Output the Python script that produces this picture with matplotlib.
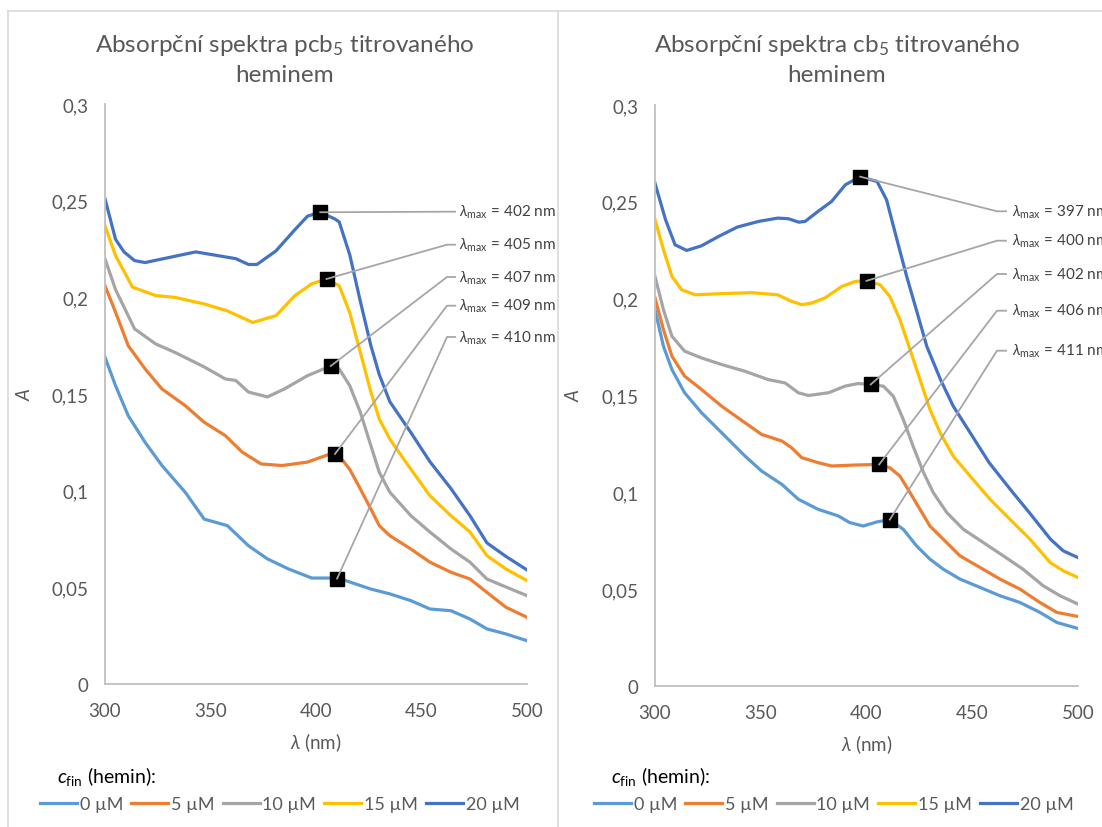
import matplotlib
matplotlib.use("Agg")
import matplotlib.pyplot as plt
import numpy as np
from matplotlib.ticker import FuncFormatter, MultipleLocator
from matplotlib.lines import Line2D

plt.rcParams['font.family'] = ['Lato', 'DejaVu Sans']
plt.rcParams['mathtext.fontset'] = 'custom'
plt.rcParams['mathtext.rm'] = 'Lato'
plt.rcParams['mathtext.it'] = 'Lato:italic'
plt.rcParams['mathtext.bf'] = 'Lato:bold'

conc_labels = ["0 µM", "5 µM", "10 µM", "15 µM", "20 µM"]
colors = ["#5B9BD5", "#ED7D31", "#A5A5A5", "#FFC000", "#4472C4"]

# --- pcb5 (left) : wavelength (nm) / absorbance
pcb_wl_0 = [300, 305, 311, 319, 327, 338, 347, 358, 368, 377, 387, 398, 409, 414, 426, 435, 445, 454, 464, 473, 481, 490, 500]
pcb_a_0 = [0.169, 0.1543, 0.1388, 0.125, 0.113, 0.0992, 0.0853, 0.0819, 0.0715, 0.0647, 0.0595, 0.0548, 0.0548, 0.0535, 0.0491, 0.0466, 0.0431, 0.0388, 0.0379, 0.0336, 0.0285, 0.0259, 0.0224]
pcb_wl_5 = [300, 305, 311, 319, 327, 338, 347, 357, 365, 374, 384, 396, 408, 411, 416, 421, 426, 430, 435, 445, 454, 464, 473, 481, 490, 500]
pcb_a_5 = [0.206, 0.1923, 0.175, 0.163, 0.1526, 0.144, 0.1354, 0.1285, 0.120, 0.1138, 0.113, 0.1148, 0.1195, 0.118, 0.111, 0.1009, 0.0905, 0.0819, 0.0767, 0.0698, 0.063, 0.0578, 0.0543, 0.0474, 0.0397, 0.0345]
pcb_wl_10 = [300, 305, 314, 324, 333, 347, 357, 362, 368, 377, 385, 396, 407, 411, 416, 421, 426, 430, 435, 445, 454, 464, 473, 481, 490, 500]
pcb_a_10 = [0.2199, 0.204, 0.1837, 0.1759, 0.1716, 0.164, 0.1578, 0.157, 0.151, 0.1485, 0.1526, 0.1595, 0.1645, 0.163, 0.1543, 0.1406, 0.1233, 0.1095, 0.0992, 0.087, 0.0786, 0.0698, 0.063, 0.0543, 0.0502, 0.0457]
pcb_wl_15 = [300, 305, 313, 324, 333, 347, 358, 370, 381, 390, 398, 405, 411, 416, 421, 426, 430, 435, 445, 454, 464, 473, 481, 490, 500]
pcb_a_15 = [0.237, 0.2216, 0.2053, 0.2009, 0.200, 0.1966, 0.193, 0.187, 0.1905, 0.2009, 0.207, 0.2095, 0.206, 0.192, 0.1716, 0.151, 0.137, 0.1267, 0.111, 0.0974, 0.087, 0.0786, 0.0664, 0.0595, 0.0535]
pcb_wl_20 = [300, 305, 309, 314, 319, 343, 362, 368, 372, 381, 390, 396, 402, 409, 411, 416, 421, 426, 430, 435, 445, 454, 464, 473, 481, 490, 500]
pcb_a_20 = [0.251, 0.230, 0.2235, 0.219, 0.218, 0.2235, 0.220, 0.217, 0.217, 0.224, 0.235, 0.242, 0.244, 0.2405, 0.239, 0.222, 0.198, 0.175, 0.160, 0.146, 0.130, 0.115, 0.101, 0.087, 0.073, 0.066, 0.059]
pcb_lmax = [410, 409, 407, 405, 402]

# --- cb5 (right)
cb_wl_0 = [300, 304, 308, 314, 322, 331.5, 342.6, 350.4, 360, 367.8, 377.2, 386.7, 392, 398.5, 404.8, 411, 417.4, 423.7, 430, 436.3, 444.2, 453.7, 463.1, 472.6, 482, 490, 500]
cb_a_0 = [0.1943, 0.1754, 0.1634, 0.1514, 0.1411, 0.1308, 0.1187, 0.111, 0.1041, 0.0964, 0.0912, 0.0878, 0.0844, 0.0826, 0.0847, 0.0859, 0.0809, 0.0723, 0.0655, 0.0603, 0.0552, 0.0509, 0.0466, 0.0431, 0.038, 0.0328, 0.0297]
cb_wl_5 = [300, 304, 308, 314, 322, 331.5, 342.6, 350.4, 360, 364.6, 369.4, 377.2, 383.5, 394.6, 406, 411, 415.8, 420.6, 425.3, 430, 436.3, 444.2, 453.7, 463.1, 472.6, 482, 490, 500]
cb_a_5 = [0.2004, 0.184, 0.1703, 0.160, 0.1531, 0.1445, 0.1359, 0.1299, 0.1265, 0.123, 0.1179, 0.1153, 0.1136, 0.1141, 0.1144, 0.1127, 0.1084, 0.0998, 0.0912, 0.0826, 0.0758, 0.0672, 0.0612, 0.0552, 0.050, 0.0431, 0.038, 0.0359]
cb_wl_10 = [300, 304, 308, 314, 322, 331.5, 342.6, 353.6, 361.5, 367.8, 372.5, 382, 389.8, 396, 402, 408, 412.7, 417.4, 422, 427, 431.6, 438, 445.8, 455.2, 464.7, 474, 483.6, 491.5, 500]
cb_a_10 = [0.2115, 0.1943, 0.1806, 0.1729, 0.1694, 0.166, 0.1625, 0.1582, 0.1565, 0.1514, 0.150, 0.1514, 0.1548, 0.1562, 0.1557, 0.1548, 0.1496, 0.1376, 0.1239, 0.1101, 0.0998, 0.0895, 0.0809, 0.0741, 0.0672, 0.0603, 0.0517, 0.0466, 0.0423]
cb_wl_15 = [300, 304, 308, 312.6, 319, 331.5, 345.7, 358, 364.6, 369.4, 374, 380.4, 388.3, 394.6, 400, 406.4, 411, 415.8, 420.6, 425.3, 430, 434.8, 441, 449, 458.4, 467.8, 477.3, 486.8, 493, 500]
cb_a_15 = [0.2407, 0.2253, 0.2115, 0.2046, 0.202, 0.2026, 0.2031, 0.202, 0.1986, 0.1969, 0.1977, 0.2004, 0.2063, 0.2089, 0.2092, 0.2072, 0.2012, 0.1892, 0.1737, 0.1582, 0.1428, 0.1308, 0.1187, 0.1084, 0.0964, 0.0861, 0.0758, 0.0638, 0.0595, 0.056]
cb_wl_20 = [300, 305, 309.5, 315, 322, 330, 339, 349, 358, 363, 368, 371, 377, 383.5, 390, 397, 405, 409.5, 414, 419, 424, 428.5, 435, 441, 449, 458, 468, 477, 487, 493, 500]
cb_a_20 = [0.2596, 0.2407, 0.2278, 0.2249, 0.2273, 0.2321, 0.237, 0.2399, 0.2416, 0.2413, 0.2395, 0.2399, 0.245, 0.2502, 0.2588, 0.263, 0.2605, 0.251, 0.2321, 0.2115, 0.1926, 0.1754, 0.1582, 0.1445, 0.1308, 0.1153, 0.1015, 0.0895, 0.0758, 0.0698, 0.0663]
cb_lmax = [411, 406, 402, 400, 397]

W, H = 1102, 828
fig = plt.figure(figsize=(W / 100, H / 100), dpi=100)

grey = "#595959"
border = "#d9d9d9"

# chart frames
fig.add_artist(Line2D([8 / W, 1], [1 - 12 / H] * 2, color=border, lw=1.2))
fig.add_artist(Line2D([8 / W] * 2, [0, 1 - 12 / H], color=border, lw=1.2))
fig.add_artist(Line2D([558 / W] * 2, [0, 1 - 12 / H], color=border, lw=1.2))


def comma(v, pos):
    return f"{v:g}".replace(".", ",")


def panel(px, wls, vals, lmax, label_py, elbow, text_x, title, tcx, legx):
    x0, x1, y0, y1 = px
    ax = fig.add_axes([x0 / W, 1 - y1 / H, (x1 - x0) / W, (y1 - y0) / H])
    for wl, a, c, lab in zip(wls, vals, colors, conc_labels):
        ax.plot(wl, a, color=c, lw=2.3, label=lab, solid_joinstyle="round")
    ax.set_xlim(300, 500)
    ax.set_ylim(0, 0.3)
    ax.xaxis.set_major_locator(MultipleLocator(50))
    ax.yaxis.set_major_locator(MultipleLocator(0.05))
    ax.yaxis.set_major_formatter(FuncFormatter(comma))
    for s in ["top", "right"]:
        ax.spines[s].set_visible(False)
    for s in ["left", "bottom"]:
        ax.spines[s].set_color("#bfbfbf")
        ax.spines[s].set_linewidth(1.3)
    ax.tick_params(length=0, labelsize=13.5, labelcolor=grey)
    ax.tick_params(axis="y", pad=12)
    ax.tick_params(axis="x", pad=13)
    ax.set_xlabel(r"$\lambda$ (nm)", fontsize=13.5, color=grey)
    ax.set_ylabel("A", fontsize=13.5, color=grey, fontstyle="italic")
    ax.xaxis.set_label_coords(0.5, -0.08)
    ax.yaxis.set_label_coords(-0.17, 0.5)

    # peak markers with leader lines and labels
    to_data = ax.transData.inverted()
    for wl, a, lm, ly in zip(wls, vals, lmax, label_py):
        my = np.interp(lm, wl, a)
        ex, ey = to_data.transform((elbow[0], H - ly))
        ex2, _ = to_data.transform((elbow[1], H - ly))
        tx, _ = to_data.transform((text_x, H - ly))
        ax.plot([lm], [my], marker="s", ms=9.5, color="black", zorder=5, clip_on=False)
        ax.plot([lm, ex, ex2], [my, ey, ey], color="#a6a6a6", lw=1.3, zorder=6, clip_on=False)
        ax.text(tx, ey, r"$\lambda_{\mathrm{max}}$" + f" = {lm} nm", fontsize=11,
                color="#404040", va="center", ha="left", clip_on=False)

    fig.text(tcx / W, 1 - 45 / H, title, ha="center", va="center", fontsize=17.5, color=grey)
    fig.text(tcx / W, 1 - 75 / H, "heminem", ha="center", va="center", fontsize=17.5, color=grey)

    fig.text((legx + 17) / W, 1 - 777 / H, r"$c_{\mathrm{fin}}$ (hemin):", ha="left", va="center",
             fontsize=14, color="black")
    h, l = ax.get_legend_handles_labels()
    fig.legend(h, l, loc="center left", bbox_to_anchor=(legx / W, 1 - 805 / H), ncol=5,
               frameon=False, fontsize=13, handlelength=2.05, handletextpad=0.15,
               columnspacing=0.45, borderpad=0, borderaxespad=0, labelcolor=grey)
    return ax


panel((105, 527, 105, 685),
      [pcb_wl_0, pcb_wl_5, pcb_wl_10, pcb_wl_15, pcb_wl_20],
      [pcb_a_0, pcb_a_5, pcb_a_10, pcb_a_15, pcb_a_20],
      pcb_lmax, [338, 306.7, 278, 245.7, 212.7], (447, 455), 459,
      r"Absorpční spektra pcb$_5$ titrovaného", 285, 40)

panel((655, 1078, 106, 687),
      [cb_wl_0, cb_wl_5, cb_wl_10, cb_wl_15, cb_wl_20],
      [cb_a_0, cb_a_5, cb_a_10, cb_a_15, cb_a_20],
      cb_lmax, [351.7, 311.7, 275, 241.7, 212.3], (997, 1006), 1012,
      r"Absorpční spektra cb$_5$ titrovaného", 837, 594)

fig.savefig("out.png", dpi=100)
